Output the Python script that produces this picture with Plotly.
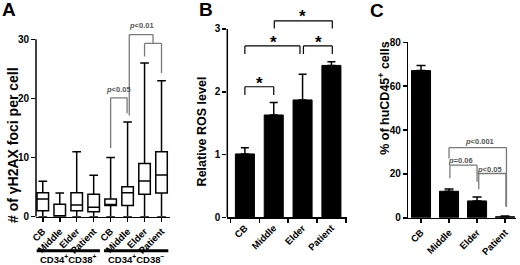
import plotly.graph_objects as go

# ---------------- data ----------------
# Panel A: gammaH2AX foci per cell (box plots)
a_labels = ["CB", "Middle", "Elder", "Patient", "CB", "Middle", "Elder", "Patient"]
a_pos = [0, 1, 2, 3, 4, 5, 6, 7]
a_lower = [0, 0, 0, 0, 0, 0, 0, 0]
a_q1 = [1.0, 0.0, 1.0, 0.85, 1.9, 1.9, 3.8, 4.0]
a_median = [3.0, 0.0, 2.0, 1.6, 1.9, 4.05, 6.05, 7.05]
a_q3 = [4.05, 2.1, 4.05, 3.8, 3.0, 5.05, 9.0, 11.0]
a_upper = [6.0, 4.0, 11.0, 7.0, 10.0, 16.0, 26.0, 23.0]
a_group_names = ["CD34<sup>+</sup>CD38<sup>+</sup>", "CD34<sup>+</sup>CD38<sup>\u2212</sup>"]
a_group_centers = [1.5, 5.5]
a_yticks = [0, 10, 20, 30]
# brackets: x0, x1, top, left-leg bottom, right-leg bottom, label, label y
a_brackets = [
    (4.0, 4.97, 20.1, 11.6, 17.5, "<i>p</i>&lt;0.05", 21.5),
    (6.0, 7.0, 29.3, 27.1, 24.3, "", 0),
    (5.1, 6.5, 30.8, 17.1, 29.3, "<i>p</i>&lt;0.01", 32.4),
]

# Panel B: relative ROS level
b_cats = ["CB", "Middle", "Elder", "Patient"]
b_mean = [1.01, 1.63, 1.87, 2.42]
b_err = [0.10, 0.20, 0.41, 0.06]
b_yticks = [0, 1, 2, 3]
b_brackets = [
    (0.0, 1.0, 2.08, 1.95, 1.95, 0.5, 2.19),
    (0.0, 1.91, 2.73, 2.60, 2.60, 1.0, 2.85),
    (2.03, 3.03, 2.73, 2.60, 2.60, 2.55, 2.85),
    (1.02, 3.03, 3.13, 3.01, 3.01, 2.0, 3.27),
]

# Panel C: % of huCD45+ cells
c_cats = ["CB", "Middle", "Elder", "Patient"]
c_mean = [67.1, 12.1, 7.7, 0.5]
c_err = [2.3, 1.0, 1.8, 0.3]
c_yticks = [0, 20, 40, 60, 80]
c_brackets = [
    (1.0, 3.05, 32.0, 27.0, 5.0, "<i>p</i>&lt;0.001", 34.6, 2.08),
    (1.03, 2.0, 24.0, 18.0, 16.4, "<i>p</i>=0.06", 26.3, 1.42),
    (2.06, 3.03, 20.2, 13.0, 5.0, "<i>p</i>&lt;0.05", 22.1, 2.45),
]

# ---------------- layout helpers ----------------
W, H = 520, 265
FONT = "Liberation Sans, Arial, Helvetica, sans-serif"


def fx(px):
    return px / W


def fy(px):
    return (H - px) / H


fig = go.Figure()

# Panel A boxes
fig.add_trace(go.Box(
    x=a_pos, q1=a_q1, median=a_median, q3=a_q3,
    lowerfence=a_lower, upperfence=a_upper,
    width=0.68, whiskerwidth=0.75, fillcolor="white",
    line=dict(color="black", width=1.5), boxpoints=False,
    showlegend=False, xaxis="x", yaxis="y", hoverinfo="skip",
))

# Panel B bars
fig.add_trace(go.Bar(
    x=b_cats, y=b_mean, width=0.66,
    marker=dict(color="black", line=dict(color="black", width=1)),
    error_y=dict(type="data", array=b_err, arrayminus=[0] * len(b_err), symmetric=False,
                 color="black", thickness=1.5, width=4),
    showlegend=False, xaxis="x2", yaxis="y2",
))

# Panel C bars
fig.add_trace(go.Bar(
    x=list(range(len(c_cats))), y=c_mean, width=0.68,
    marker=dict(color="black", line=dict(color="black", width=1)),
    error_y=dict(type="data", array=c_err, arrayminus=[0] * len(c_err), symmetric=False,
                 color="black", thickness=1.5, width=4.5),
    showlegend=False, xaxis="x3", yaxis="y3",
))

tickfont = dict(family=FONT, size=10, color="black", weight="bold")
xtickfont = dict(family=FONT, size=9.5, color="black", weight="bold")
common_x = dict(showgrid=False, zeroline=False, showline=True, linecolor="black", linewidth=1.5,
                ticks="outside", ticklen=4, tickwidth=1.5, tickcolor="black",
                tickangle=-45, tickfont=xtickfont, automargin=False)
common_y = dict(showgrid=False, zeroline=False, ticks="outside", ticklen=4, tickwidth=1.5,
                tickcolor="black", tickfont=tickfont, automargin=False)

# A axes: y 0 at px 216.7, 30 at px 39.3 (range extended so bracket labels stay visible)
a_ppu = (216.7 - 39.3) / 30
a_ytop = 33.2
fig.update_layout(
    xaxis=dict(domain=[fx(36), fx(170)], range=[-0.4, 7.5], tickvals=a_pos, ticktext=a_labels,
               anchor="y", **common_x),
    yaxis=dict(domain=[fy(216.7), fy(216.7 - a_ytop * a_ppu)], range=[0, a_ytop], tickvals=a_yticks,
               showline=False, anchor="x", **common_y),
)

# B axes: 0 at px 217.3, 3 at px 29
b_ppu = (217.3 - 29) / 3
b_ytop = 3.33
fig.update_layout(
    xaxis2=dict(domain=[fx(227.3), fx(346.7)], type="category", categoryarray=b_cats,
                range=[-0.61, 3.53], tickson="boundaries", anchor="y2", **common_x),
    yaxis2=dict(domain=[fy(217.3), fy(217.3 - b_ytop * b_ppu)], range=[0, b_ytop], tickvals=b_yticks,
                showline=False, anchor="x2", **common_y),
)

# C axes: 0 at px 217.8, 80 at 42.3
fig.update_layout(
    xaxis3=dict(domain=[fx(408.3), fx(516)], range=[-0.454, 3.39], tickvals=list(range(len(c_cats))),
                ticktext=c_cats, anchor="y3", **common_x),
    yaxis3=dict(domain=[fy(217.8), fy(42.3)], range=[0, 80], tickvals=c_yticks,
                showline=True, linecolor="black", linewidth=1.5, anchor="x3", **common_y),
)

shapes = []
annotations = []

# spines for A and B (axis ranges are extended to fit brackets)
shapes.append(dict(type="line", xref="x domain", yref="y", x0=0, x1=0, y0=0, y1=30,
                   line=dict(color="black", width=1.5)))
shapes.append(dict(type="line", xref="x2 domain", yref="y2", x0=0, x1=0, y0=0, y1=3,
                   line=dict(color="black", width=1.5)))


def add_bracket(xr, yr, x0, x1, top, yl, yrb, color, width):
    for (ax, ay, bx, by) in [(x0, yl, x0, top), (x0, top, x1, top), (x1, top, x1, yrb)]:
        shapes.append(dict(type="line", xref=xr, yref=yr, x0=ax, y0=ay, x1=bx, y1=by,
                           line=dict(color=color, width=width)))


GRAY = "#7a7a7a"
pfont = dict(family=FONT, size=7.5, color="#555555", weight="bold")

for (x0, x1, top, yl, yrb, lab, ly) in a_brackets:
    add_bracket("x", "y", x0, x1, top, yl, yrb, GRAY, 1.3)
    if lab:
        annotations.append(dict(xref="x", yref="y", x=(x0 + x1) / 2, y=ly, text=lab, showarrow=False,
                                font=pfont, xanchor="center", yanchor="middle"))

for (x0, x1, top, yl, yrb, sx, sy) in b_brackets:
    add_bracket("x2", "y2", x0, x1, top, yl, yrb, "black", 1.2)
    annotations.append(dict(xref="x2", yref="y2", x=sx, y=sy, text="*", showarrow=False, yshift=-4,
                            font=dict(family=FONT, size=17, color="black", weight="bold"),
                            xanchor="center", yanchor="middle"))

for (x0, x1, top, yl, yrb, lab, ly, lx) in c_brackets:
    add_bracket("x3", "y3", x0, x1, top, yl, yrb, GRAY, 1.3)
    annotations.append(dict(xref="x3", yref="y3", x=lx, y=ly, text=lab, showarrow=False,
                            font=pfont, xanchor="center", yanchor="middle"))

# group lines and labels under A
a_group_spans = [(-0.36, 3.37), (3.61, 7.4)]
for (g0, g1), name, gc in zip(a_group_spans, a_group_names, a_group_centers):
    shapes.append(dict(type="line", xref="x", yref="paper", x0=g0, x1=g1, y0=fy(250.7), y1=fy(250.7),
                       line=dict(color="black", width=3)))
    annotations.append(dict(xref="x", yref="paper", x=gc, y=fy(258.6), text=name, showarrow=False,
                            font=dict(family=FONT, size=9.5, color="black", weight="bold"),
                            xanchor="center", yanchor="middle"))

# panel letters
for letter, px, py in [("A", 9, 9.5), ("B", 206, 9.5), ("C", 377, 10.5)]:
    annotations.append(dict(xref="paper", yref="paper", x=fx(px), y=fy(py), text=letter, showarrow=False,
                            font=dict(family=FONT, size=19, color="black", weight="bold"),
                            xanchor="center", yanchor="middle"))

# y titles
for text, px, py, size in [("# of \u03b3H2AX foci per cell", 13, 145, 14),
                           ("Relative ROS level", 201.7, 131.7, 12.5),
                           ("% of huCD45<sup>+</sup> cells", 383.3, 97.5, 12.5)]:
    annotations.append(dict(xref="paper", yref="paper", x=fx(px), y=fy(py), text=text, showarrow=False,
                            textangle=-90,
                            font=dict(family=FONT, size=size, color="black", weight="bold"),
                            xanchor="center", yanchor="middle"))

fig.update_layout(
    template="none",
    width=W, height=H, margin=dict(l=0, r=0, t=0, b=0, autoexpand=False),
    paper_bgcolor="white", plot_bgcolor="white",
    shapes=shapes, annotations=annotations, showlegend=False, bargap=0,
    font=dict(family=FONT, color="black"),
    hovermode=False,
)

fig.write_html("out.html", config={"displayModeBar": False, "staticPlot": True},
               post_script="document.body.style.margin='0px';document.body.style.overflow='hidden';")
